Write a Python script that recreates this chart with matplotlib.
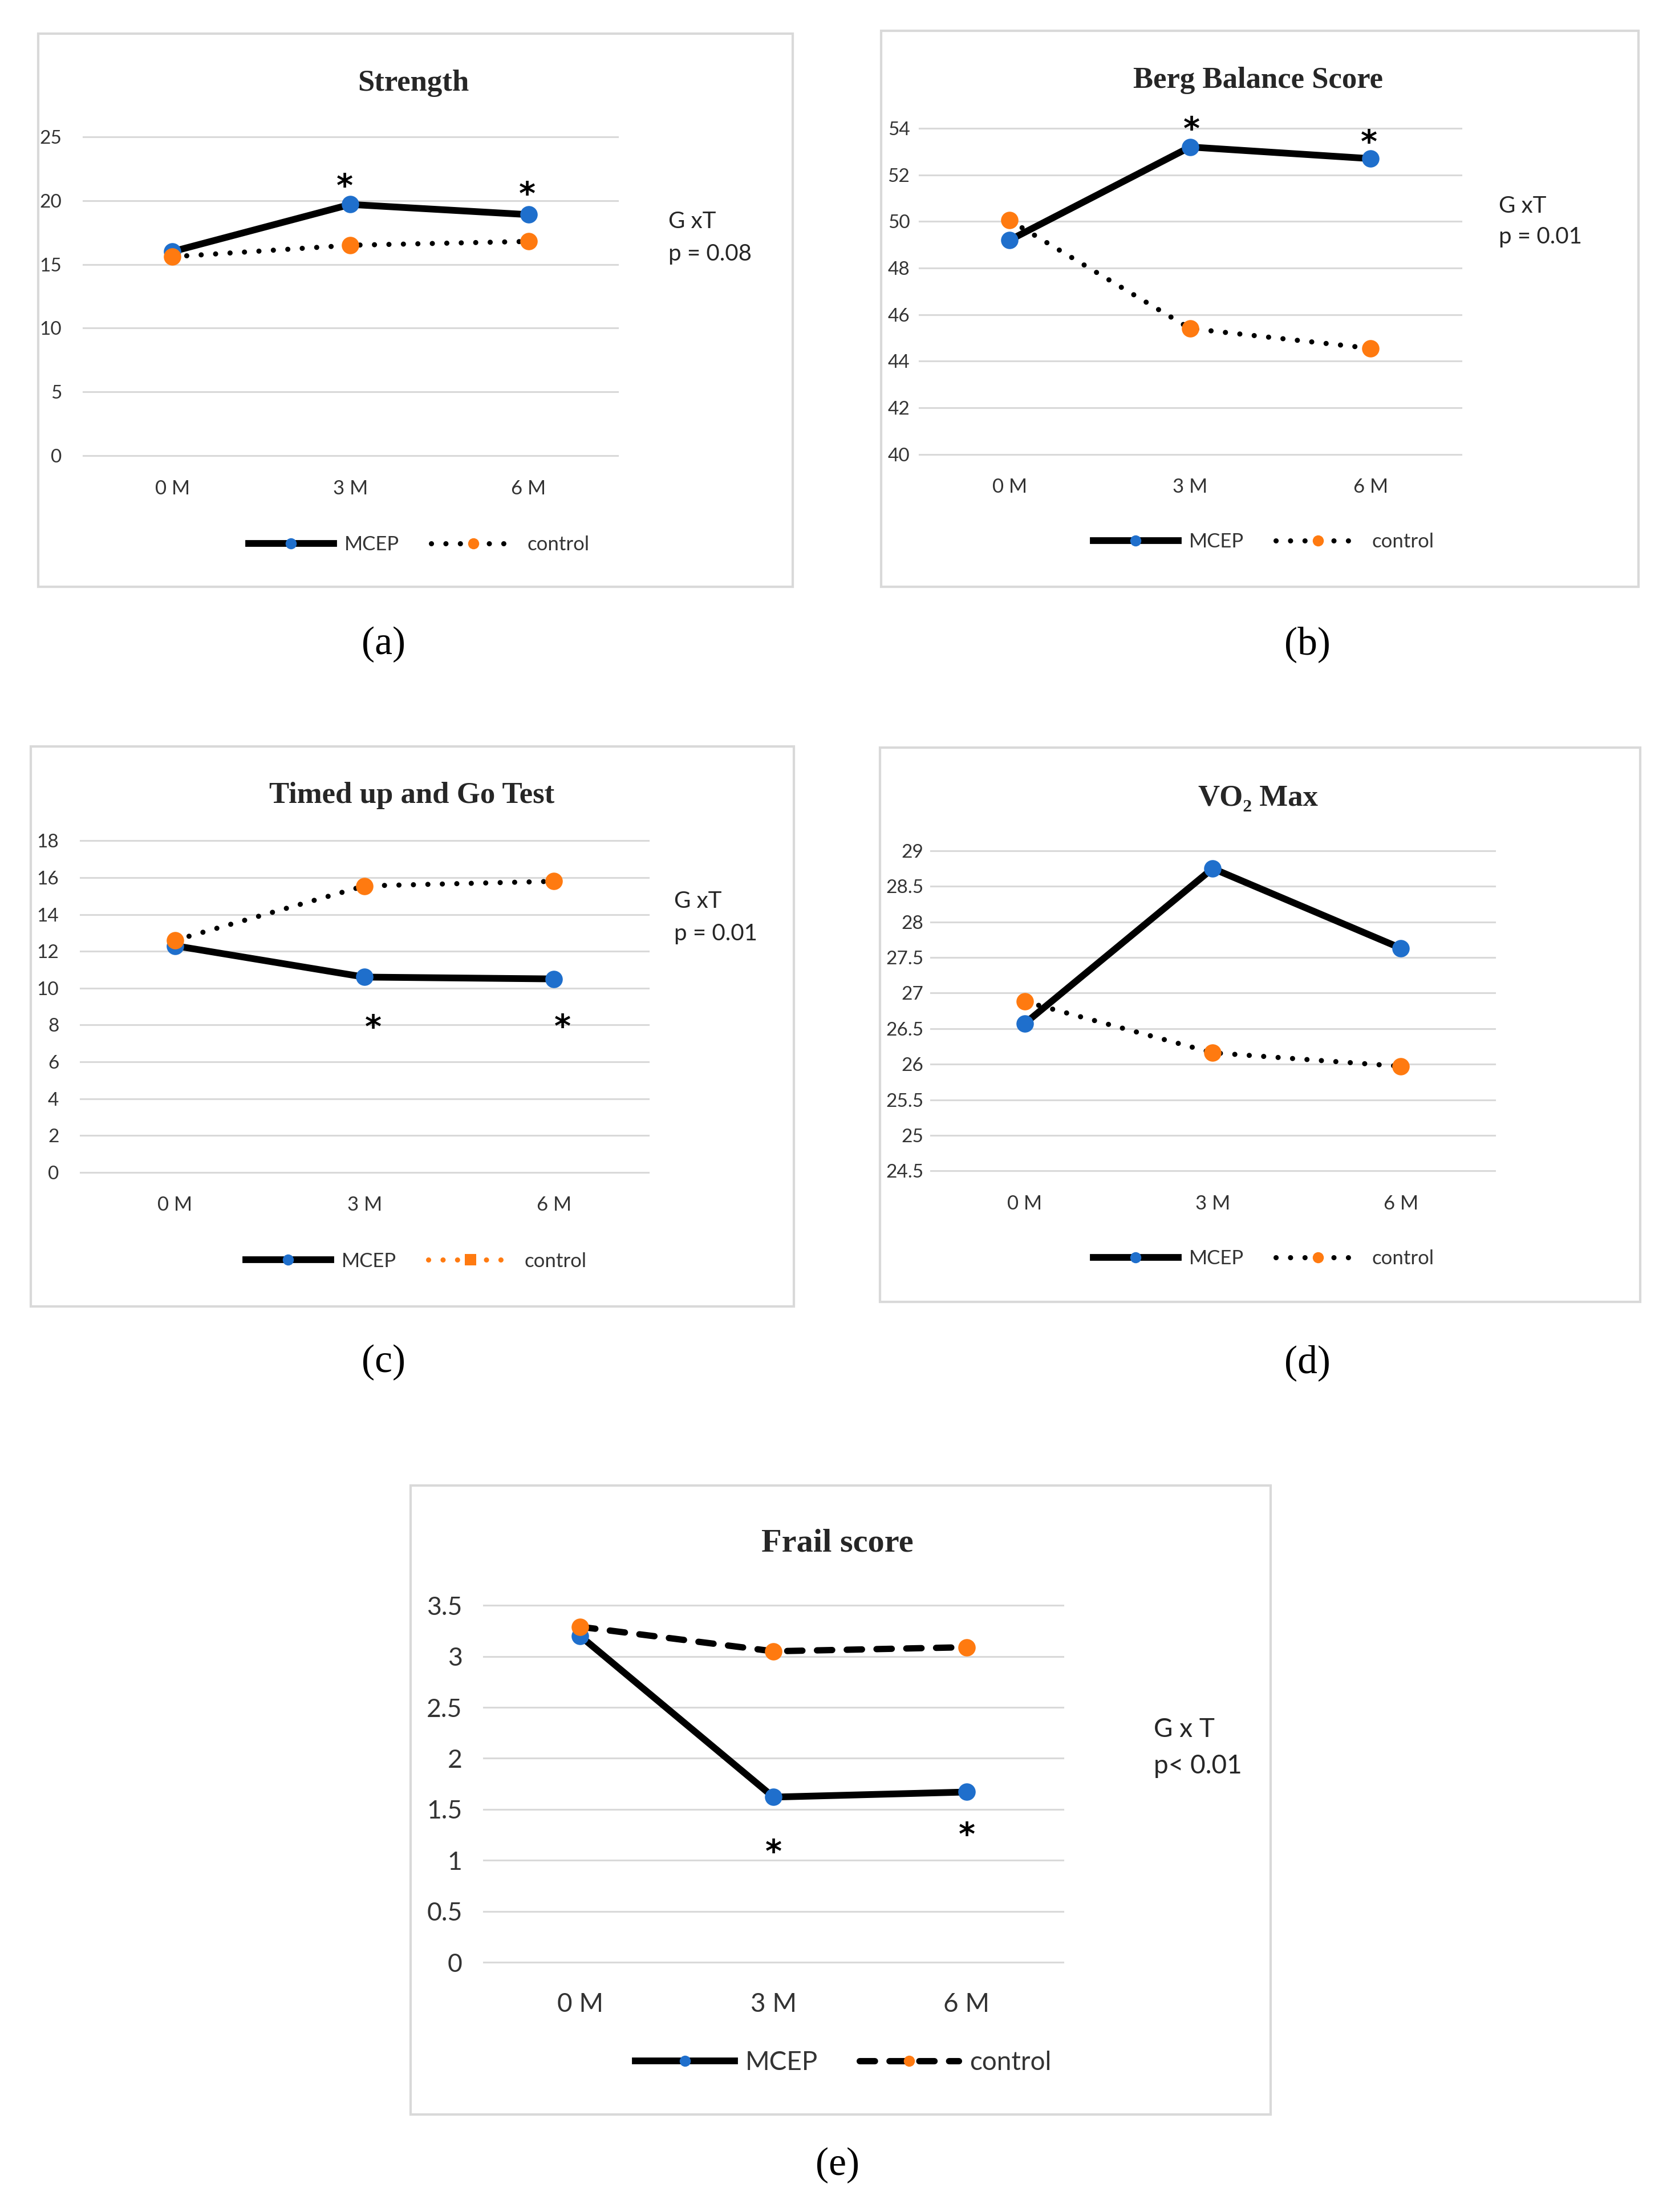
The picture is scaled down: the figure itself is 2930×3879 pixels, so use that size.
import matplotlib
matplotlib.use("Agg")
import matplotlib.pyplot as plt
from matplotlib.patches import Rectangle
from matplotlib.lines import Line2D

# ---------------- data ----------------
months = ["0 M", "3 M", "6 M"]

strength_mcep = [16.0, 19.7, 18.9]
strength_ctrl = [15.6, 16.5, 16.8]
strength_ticks = [0, 5, 10, 15, 20, 25]
strength_sig = ["3 M", "6 M"]

berg_mcep = [49.2, 53.2, 52.7]
berg_ctrl = [50.05, 45.4, 44.55]
berg_ticks = [40, 42, 44, 46, 48, 50, 52, 54]
berg_sig = ["3 M", "6 M"]

tug_mcep = [12.3, 10.6, 10.5]
tug_ctrl = [12.6, 15.55, 15.8]
tug_ticks = [0, 2, 4, 6, 8, 10, 12, 14, 16, 18]
tug_sig = ["3 M", "6 M"]

vo2_mcep = [26.57, 28.75, 27.63]
vo2_ctrl = [26.88, 26.16, 25.97]
vo2_ticks = [24.5, 25, 25.5, 26, 26.5, 27, 27.5, 28, 28.5, 29]
vo2_tick_labels = ["24.5", "25", "25.5", "26", "26.5", "27", "27.5", "28", "28.5", "29"]
vo2_sig = []

frail_mcep = [3.2, 1.62, 1.67]
frail_ctrl = [3.29, 3.05, 3.09]
frail_ticks = [0, 0.5, 1, 1.5, 2, 2.5, 3, 3.5]
frail_tick_labels = ["0", "0.5", "1", "1.5", "2", "2.5", "3", "3.5"]
frail_sig = ["3 M", "6 M"]

series_names = ["MCEP", "control"]
titles = ["Strength", "Berg Balance Score", "Timed up and Go Test", "VO₂ Max", "Frail score"]
gxt_labels = [["G xT", "p = 0.08"], ["G xT", "p = 0.01"], ["G xT", "p = 0.01"], None, ["G x T", "p< 0.01"]]
captions = ["(a)", "(b)", "(c)", "(d)", "(e)"]

# ---------------- style ----------------
BLUE = "#1F6FCC"
ORANGE = "#FF7A10"
GRID = "#D9D9D9"
TXT = "#333333"
SANS = ["Lato", "DejaVu Sans"]
SERIF = ["Liberation Serif", "DejaVu Serif"]

W, H = 1185.0, 1568.0   # layout reference grid


def fx(x):
    return x / W


def fy(y):
    return 1 - y / H


fig = plt.figure(figsize=(29.30, 38.79), dpi=100)
fig.patch.set_facecolor("white")

DOT = (0, (0.01, 2.8))
DASH = (0, (2.4, 2.3))

panels = [
    dict(m=strength_mcep, c=strength_ctrl, ticks=strength_ticks, tl=[str(t) for t in strength_ticks],
         sig=strength_sig, sig_off=[(-7, 21), (-2, 24)],
         box=(27, 24, 562, 416), ax=(59, 97, 438, 323), title=(293, 59), leg=(297, 386),
         gxt=(474, 157, 180), cap=(272, 457), ypad=27, xpad=30, fs=24, lfs=25, gfs=29, tfs=38,
         cstyle=DOT, clw=6.5, legcolor="black", legmarker="o", htp=0.55, hl=4.3),
    dict(m=berg_mcep, c=berg_ctrl, ticks=berg_ticks, tl=[str(t) for t in berg_ticks],
         sig=berg_sig, sig_off=[(2, 21), (-2, 19)],
         box=(625, 22, 1162, 416), ax=(652, 91, 1036, 322), title=(892, 57), leg=(896, 384),
         gxt=(1063, 146, 168), cap=(927, 457), ypad=12, xpad=30, fs=24, lfs=25, gfs=29, tfs=38,
         cstyle=DOT, clw=6.5, legcolor="black", legmarker="o", htp=0.55, hl=4.3),
    dict(m=tug_mcep, c=tug_ctrl, ticks=tug_ticks, tl=[str(t) for t in tug_ticks],
         sig=tug_sig, sig_off=[(11, -65), (11, -62)],
         box=(22, 529, 563, 926), ax=(57, 596, 460, 831), title=(292, 564), leg=(295, 894),
         gxt=(478, 639, 662), cap=(272, 966), ypad=27, xpad=30, fs=24, lfs=25, gfs=29, tfs=38,
         cstyle=DOT, clw=6.5, legcolor=ORANGE, legmarker="s", htp=0.55, hl=4.3),
    dict(m=vo2_mcep, c=vo2_ctrl, ticks=vo2_ticks, tl=vo2_tick_labels,
         sig=vo2_sig, sig_off=[],
         box=(624, 530, 1163, 923), ax=(660, 603, 1060, 830), title=(892, 566), leg=(896, 892),
         gxt=None, cap=(927, 966), ypad=9, xpad=30, fs=24, lfs=25, gfs=29, tfs=38,
         cstyle=DOT, clw=6.5, legcolor="black", legmarker="o", htp=0.55, hl=4.3),
    dict(m=frail_mcep, c=frail_ctrl, ticks=frail_ticks, tl=frail_tick_labels,
         sig=frail_sig, sig_off=[(0, -71), (0, -56)],
         box=(291, 1053, 901, 1499), ax=(343, 1138, 754, 1391), title=(594, 1094), leg=(598, 1462),
         gxt=(818, 1226, 1252), cap=(594, 1535), ypad=27, xpad=38, fs=32, lfs=33, gfs=33, tfs=42,
         cstyle=DASH, clw=8, legcolor="black", legmarker="o", htp=0.4, hl=3.8),
]

for i, p in enumerate(panels):
    bx0, by0, bx1, by1 = p["box"]
    fig.patches.append(Rectangle((fx(bx0), fy(by1)), (bx1 - bx0) / W, (by1 - by0) / H,
                                 transform=fig.transFigure, fill=False, ec=GRID, lw=3, zorder=0))
    x0, y0, x1, y1 = p["ax"]
    ax = fig.add_axes([fx(x0), fy(y1), (x1 - x0) / W, (y1 - y0) / H])
    ax.set_facecolor("none")
    for s in ax.spines.values():
        s.set_visible(False)

    ax.plot(months, p["m"], color="black", lw=8.5, solid_capstyle="round", zorder=3,
            marker="o", markersize=22, markerfacecolor=BLUE, markeredgewidth=0)
    ax.plot(months, p["c"], color="black", lw=p["clw"], linestyle=p["cstyle"], dash_capstyle="round",
            zorder=4, marker="o", markersize=22, markerfacecolor=ORANGE, markeredgewidth=0)

    ax.set_xlim(-0.5, 2.5)
    ax.set_ylim(p["ticks"][0], p["ticks"][-1])
    ax.set_yticks(p["ticks"])
    ax.set_yticklabels(p["tl"])
    ax.grid(axis="y", color=GRID, lw=2.2, zorder=0)
    ax.grid(axis="x", visible=False)
    for gl in ax.get_ygridlines():
        gl.set_clip_on(False)
    ax.tick_params(axis="y", length=0, pad=p["ypad"], labelsize=p["fs"], labelcolor=TXT)
    ax.tick_params(axis="x", length=0, pad=p["xpad"], labelsize=p["fs"] + 1, labelcolor=TXT)
    for lab in ax.get_xticklabels() + ax.get_yticklabels():
        lab.set_fontfamily(SANS)

    for k, mname in enumerate(p["sig"]):
        j = months.index(mname)
        ax.annotate("*", xy=(j, p["m"][j]), xytext=p["sig_off"][k], textcoords="offset points",
                    ha="center", va="center", fontsize=40, fontweight="bold", color="black",
                    family=["DejaVu Sans"], zorder=5)

    h1 = Line2D([], [], color="black", lw=8.5, marker="o", markersize=14,
                markerfacecolor=BLUE, markeredgewidth=0)
    h2 = Line2D([], [], color=p["legcolor"], lw=p["clw"], linestyle=p["cstyle"], dash_capstyle="round",
                marker=p["legmarker"], markersize=14, markerfacecolor=ORANGE, markeredgewidth=0)
    lx, ly = p["leg"]
    leg = ax.legend([h1, h2], series_names, loc="center", bbox_to_anchor=(fx(lx), fy(ly)),
                    bbox_transform=fig.transFigure, ncol=2, frameon=False, numpoints=1,
                    handlelength=p["hl"], handletextpad=p["htp"], columnspacing=1.6,
                    prop={"family": SANS, "size": p["lfs"]})
    for t in leg.get_texts():
        t.set_color(TXT)

    fig.text(fx(p["title"][0]), fy(p["title"][1]), titles[i], ha="center", va="center",
             fontsize=p["tfs"], fontweight="bold", family=SERIF, color="#262626")
    if p["gxt"] is not None:
        gx, g1, g2 = p["gxt"]
        fig.text(fx(gx), fy(g1), gxt_labels[i][0], ha="left", va="center", fontsize=p["gfs"],
                 family=SANS, color="#262626")
        fig.text(fx(gx), fy(g2), gxt_labels[i][1], ha="left", va="center", fontsize=p["gfs"],
                 family=SANS, color="#262626")
    fig.text(fx(p["cap"][0]), fy(p["cap"][1]), captions[i], ha="center", va="center",
             fontsize=50, family=SERIF, color="black")

fig.savefig("out.png", dpi=100, facecolor="white")
